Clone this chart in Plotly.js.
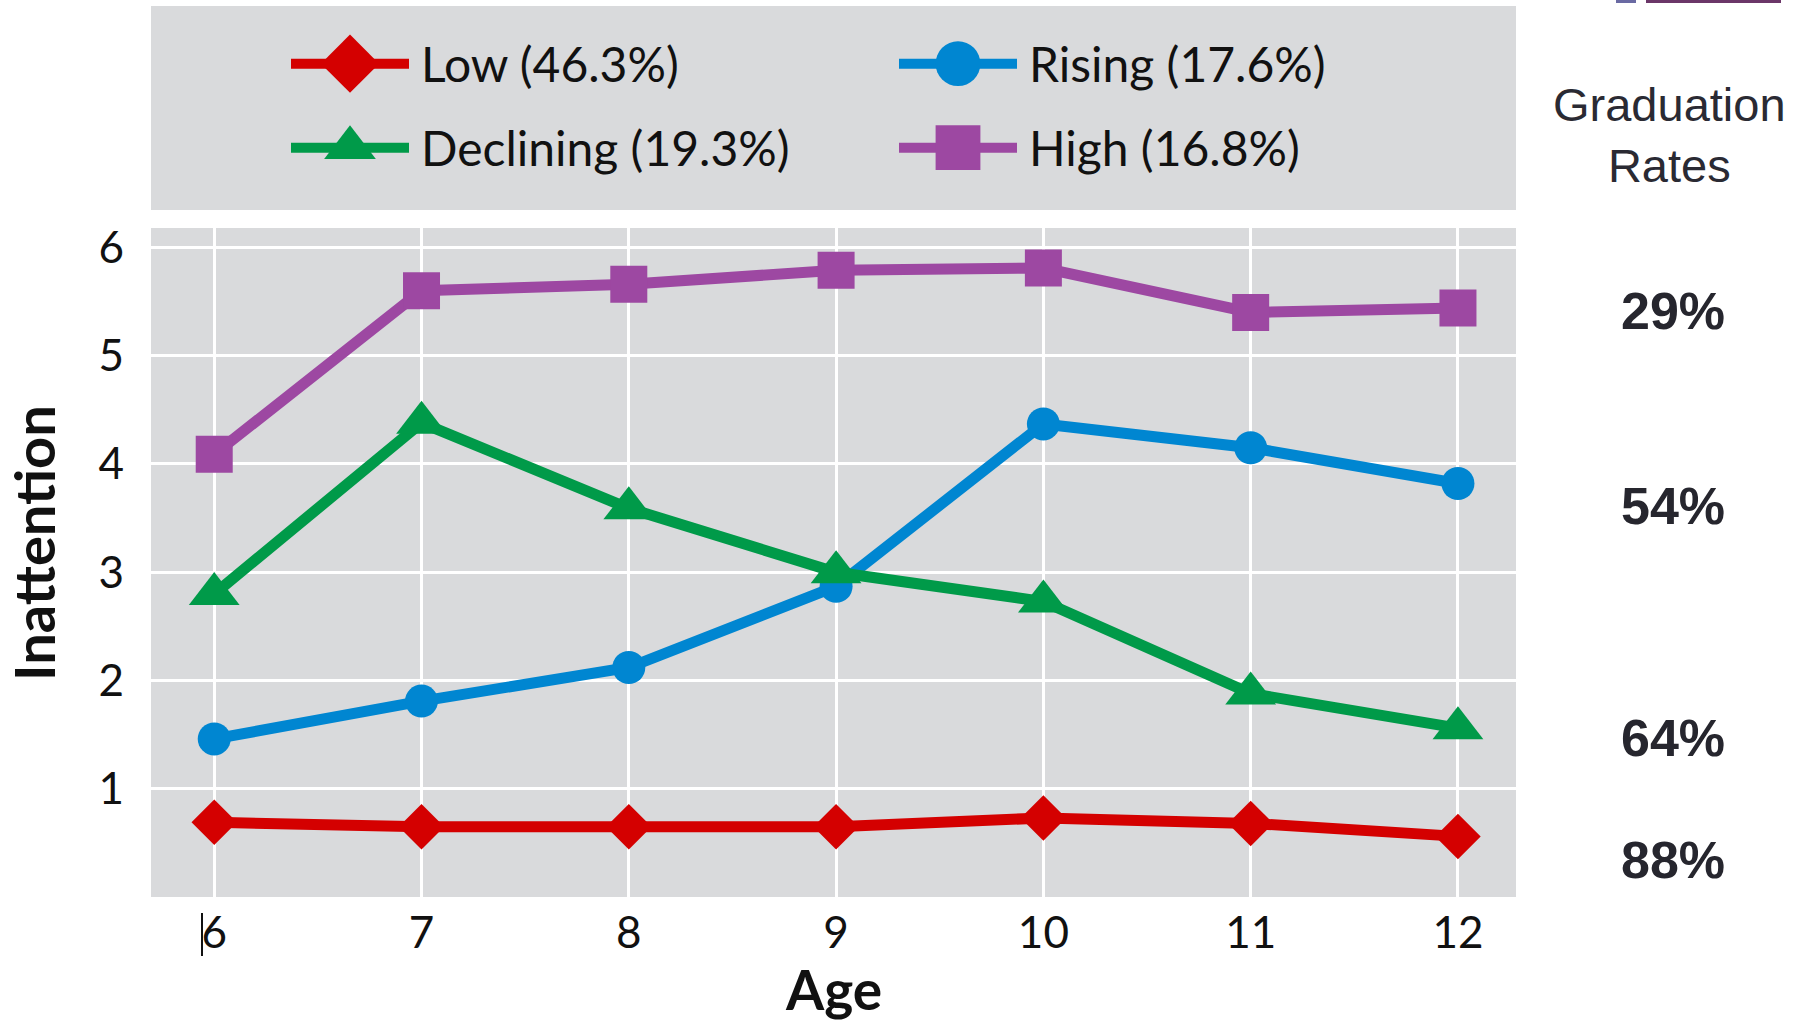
<!DOCTYPE html>
<html>
<head>
<meta charset="utf-8">
<script src="https://cdn.plot.ly/plotly-3.0.1.min.js"></script>
<style>html,body{margin:0;padding:0;background:#fff;}#chart{width:1800px;height:1026px;}</style>
</head>
<body>
<div id="chart"></div>
<script>
// ---- data ----
const ages = [6, 7, 8, 9, 10, 11, 12];
const lowValues = [0.69, 0.65, 0.65, 0.65, 0.73, 0.68, 0.56];
const risingValues = [1.46, 1.81, 2.12, 2.87, 4.37, 4.15, 3.82];
const decliningValues = [2.80, 4.38, 3.59, 3.00, 2.73, 1.88, 1.56];
const highValues = [4.09, 5.60, 5.66, 5.79, 5.81, 5.40, 5.44];
const seriesNames = ['Low (46.3%)', 'Rising (17.6%)', 'Declining (19.3%)', 'High (16.8%)'];
const gradRates = ['29%', '54%', '64%', '88%'];
const yTicks = [1, 2, 3, 4, 5, 6];

// ---- styling ----
const colors = ['#d40000', '#0086d1', '#009a49', '#9d48a2'];
const symbols = ['diamond', 'circle', 'triangle-up', 'square'];
const markerSizes = [35, 33, 44, 37];
const legendIds = ['legend', 'legend', 'legend2', 'legend2'];
const seriesValues = [lowValues, risingValues, decliningValues, highValues];

const traces = seriesValues.map((vals, i) => ({
  type: 'scatter', mode: 'lines+markers', x: ages, y: vals, name: seriesNames[i],
  legend: legendIds[i],
  line: {color: colors[i], width: 11},
  marker: {symbol: symbols[i], size: markerSizes[i], color: colors[i], line: {width: 0}}
}));

const tickFont = {family: 'Lato, sans-serif', size: 44, color: '#111'};
const legendFont = {family: 'Lato, sans-serif', size: 48, color: '#111'};
const plotTop = 228, plotBottom = 897, plotLeft = 151, plotRight = 1516;
const ph = plotBottom - plotTop, pw = plotRight - plotLeft;
const py = v => (plotBottom - v) / ph;
const px = v => (v - plotLeft) / pw;

const rateY = [311, 506, 738, 860];
const annotations = gradRates.map((t, i) => ({
  text: t, xref: 'paper', yref: 'paper', x: px(1673), y: py(rateY[i]),
  xanchor: 'center', yanchor: 'middle', showarrow: false,
  font: {family: 'Liberation Sans, Arial, sans-serif', size: 52, color: '#26262e', weight: 'bold'}
}));
annotations.push({
  text: 'Graduation<br>Rates', xref: 'paper', yref: 'paper', x: px(1669), y: py(135),
  xanchor: 'center', yanchor: 'middle', showarrow: false, align: 'center',
  font: {family: 'Liberation Sans, Arial, sans-serif', size: 47, color: '#2a2a33'}
});
annotations.push({
  text: 'Inattention', xref: 'paper', yref: 'paper', x: px(33), y: py(543),
  xanchor: 'center', yanchor: 'middle', showarrow: false, textangle: -90,
  font: {family: 'Lato, sans-serif', size: 56, color: '#111', weight: 'bold'}
});
annotations.push({
  text: 'Age', xref: 'paper', yref: 'paper', x: 0.5, y: py(1024),
  xanchor: 'center', yanchor: 'bottom', showarrow: false,
  font: {family: 'Lato, sans-serif', size: 55, color: '#111', weight: 'bold'}
});

const legendBase = {
  orientation: 'h', bgcolor: 'rgba(0,0,0,0)', borderwidth: 0, font: legendFont,
  itemwidth: 125, entrywidth: 468, entrywidthmode: 'pixels',
  xanchor: 'left', yanchor: 'middle', itemclick: false
};

const layout = {
  width: 1800, height: 1026,
  margin: {l: plotLeft, r: 1800 - plotRight, t: plotTop, b: 1026 - plotBottom, pad: 0},
  paper_bgcolor: '#ffffff', plot_bgcolor: '#d9dadc',
  showlegend: true,
  legend: Object.assign({}, legendBase, {x: px(286), y: py(64)}),
  legend2: Object.assign({}, legendBase, {x: px(286), y: py(148)}),
  xaxis: {
    range: [5.695, 12.28], tickvals: ages, ticktext: ages.map(String),
    showgrid: true, gridcolor: '#ffffff', gridwidth: 3, zeroline: false, showline: false,
    ticks: '', tickfont: tickFont, ticklabelstandoff: 6, fixedrange: true
  },
  yaxis: {
    range: [0, 6.18], tickvals: yTicks, ticktext: yTicks.map(String),
    showgrid: true, gridcolor: '#ffffff', gridwidth: 3, zeroline: false, showline: false,
    ticks: '', tickfont: tickFont, ticklabelstandoff: 26, fixedrange: true
  },
  shapes: [
    {type: 'rect', xref: 'paper', yref: 'paper', x0: 0, x1: 1, y0: py(210), y1: py(6),
     fillcolor: '#d9dadc', line: {width: 0}, layer: 'below'},
    {type: 'rect', xref: 'paper', yref: 'paper', x0: px(1616), x1: px(1636), y0: py(3), y1: py(0),
     fillcolor: '#6a6aa3', line: {width: 0}},
    {type: 'rect', xref: 'paper', yref: 'paper', x0: px(1646), x1: px(1781), y0: py(3), y1: py(0),
     fillcolor: '#6b3668', line: {width: 0}},
    {type: 'line', xref: 'paper', yref: 'paper', x0: px(202), x1: px(202), y0: py(913), y1: py(956),
     line: {color: '#111', width: 2}}
  ],
  annotations: annotations
};

Plotly.newPlot('chart', traces, layout, {staticPlot: true, displayModeBar: false}).then(gd => {
  gd.querySelectorAll('g[class^="legend"] .traces').forEach(tr => {
    tr.querySelectorAll('.legendlines path').forEach(p => p.setAttribute('d', 'M5,0h118'));
    tr.querySelectorAll('.legendsymbols path.scatterpts').forEach(p => p.setAttribute('transform', 'translate(64,0) scale(2.8)'));
  });
});
</script>
</body>
</html>
